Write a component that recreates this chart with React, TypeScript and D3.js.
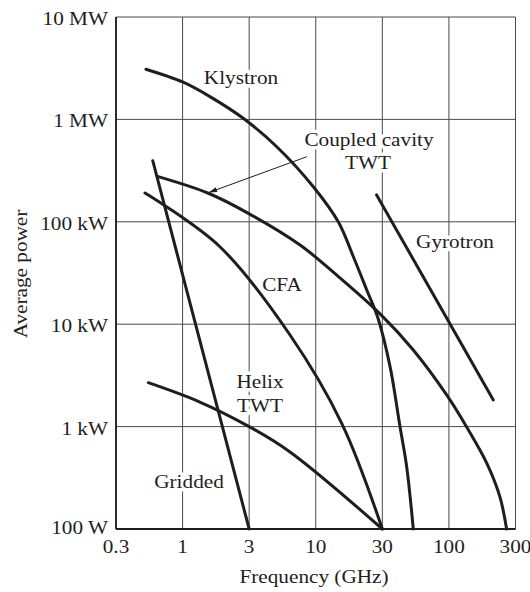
import React from "react";
import * as d3 from "d3";

// axis ticks (GHz / W)
const xTicks = [0.3, 1, 3, 10, 30, 100, 300];
const xTickLabels = ["0.3", "1", "3", "10", "30", "100", "300"];
const yTicks = [100, 1e3, 1e4, 1e5, 1e6, 1e7];
const yTickLabels = ["100 W", "1 kW", "10 kW", "100 kW", "1 MW", "10 MW"];

// curves: [frequency GHz, average power W]
const klystron: [number, number][] = [
  [0.516, 3.09e6], [1, 2.32e6], [1.57, 1.67e6], [2.72, 1.025e6], [4.94, 5.41e5],
  [9.57, 2.2e5], [14.5, 1.0e5], [18.6, 4.56e4], [23.2, 2.16e4], [27.9, 1.15e4],
  [34.5, 3850], [41.3, 998], [46.6, 406], [52.5, 100],
];
const coupledCavity: [number, number][] = [
  [0.644, 2.76e5], [1.53, 1.9e5], [2.96, 1.21e5], [7.53, 5.93e4], [14.9, 2.83e4],
  [28.9, 1.26e4], [52.5, 5600], [96, 2037], [134, 991], [187, 438],
  [232, 206], [259, 100],
];
const cfa: [number, number][] = [
  [0.507, 1.91e5], [1.85, 5.71e4], [6.28, 7845], [15.35, 1077], [30, 100],
];
const helix: [number, number][] = [
  [0.538, 2685], [1.33, 1738], [3, 1000], [6.28, 565], [30, 100],
];
const gridded: [number, number][] = [[0.583, 3.95e5], [3, 100]];
const gyrotron: [number, number][] = [[27.3, 1.83e5], [208, 1820]];
const arrowPts: [number, number][] = [[8.5, 4.32e5], [1.54, 1.93e5]];

const width = 530;
const height = 592;
const left = 116;
const right = 515.5;
const top = 17;
const bottom = 529;

const FONT = "'Liberation Serif', 'Times New Roman', serif";
const INK = "#1e1e1e";
const SX = 1.18; // the figure's serif face runs wider than Times

function Txt({ x, y, anchor = "middle", knock = false, children }: {
  x: number; y: number; anchor?: "start" | "middle" | "end"; knock?: boolean; children: React.ReactNode;
}) {
  return (
    <text
      transform={`translate(${x},${y}) scale(${SX},1)`}
      textAnchor={anchor}
      fontFamily={FONT}
      fontSize={18}
      fill={INK}
      stroke={knock ? "#fff" : "none"}
      strokeWidth={knock ? 7 : 0}
      strokeLinejoin="round"
      style={{ paintOrder: "stroke" }}
    >
      {children}
    </text>
  );
}

export default function App() {
  // the frequency grid is evenly spaced per 0.3-1-3-10 step
  const step = (right - left) / (xTicks.length - 1);
  const x = d3.scaleLog().domain(xTicks).range(xTicks.map((_, i) => left + i * step));
  const y = d3.scaleLog().domain([100, 1e7]).range([bottom, top]);

  const smooth = d3.line<[number, number]>()
    .x(d => x(d[0])).y(d => y(d[1]))
    .curve(d3.curveCatmullRom.alpha(0.5));
  const straight = d3.line<[number, number]>()
    .x(d => x(d[0])).y(d => y(d[1]));

  const curves = [
    { d: smooth(klystron), key: "k" },
    { d: smooth(coupledCavity), key: "cc" },
    { d: smooth(cfa), key: "cfa" },
    { d: smooth(helix), key: "h" },
    { d: straight(gridded), key: "g" },
    { d: straight(gyrotron), key: "gy" },
  ];

  return (
    <div style={{ position: "absolute", left: 0, top: 0, background: "#fff" }}>
      <svg width={width} height={height} viewBox={`0 0 ${width} ${height}`}>
        <defs>
          <marker id="ah" viewBox="0 0 10 6" refX="10" refY="3" markerWidth="10" markerHeight="5" orient="auto" markerUnits="userSpaceOnUse">
            <path d="M0,0 L10,3 L0,6 Z" fill={INK} />
          </marker>
        </defs>
        <rect width={width} height={height} fill="#fff" />

        {/* grid */}
        {xTicks.map(t => (
          <line key={"vx" + t} x1={x(t)} x2={x(t)} y1={top} y2={bottom} stroke="#4a4a4a" strokeWidth={1} />
        ))}
        {yTicks.map(t => (
          <line key={"hy" + t} x1={left} x2={right} y1={y(t)} y2={y(t)} stroke="#4a4a4a" strokeWidth={1} />
        ))}
        <line x1={left} x2={left} y1={top} y2={bottom} stroke={INK} strokeWidth={1.8} />
        <line x1={left} x2={right} y1={bottom} y2={bottom} stroke={INK} strokeWidth={1.8} />

        {/* labels, knocked out of the grid */}
        <Txt x={241} y={84} knock>Klystron</Txt>
        <Txt x={369} y={146} knock>Coupled cavity</Txt>
        <Txt x={368} y={169} knock>TWT</Txt>
        <Txt x={455} y={248} knock>Gyrotron</Txt>
        <Txt x={282} y={291} knock>CFA</Txt>
        <Txt x={260} y={388} knock>Helix</Txt>
        <Txt x={260} y={412} knock>TWT</Txt>
        <Txt x={189} y={488} knock>Gridded</Txt>

        {/* arrow to coupled cavity TWT */}
        <line
          x1={x(arrowPts[0][0])} y1={y(arrowPts[0][1])}
          x2={x(arrowPts[1][0])} y2={y(arrowPts[1][1])}
          stroke={INK} strokeWidth={1} markerEnd="url(#ah)"
        />

        {/* curves */}
        {curves.map(c => (
          <path key={c.key} d={c.d || ""} fill="none" stroke={INK} strokeWidth={3} strokeLinecap="round" />
        ))}

        {/* tick labels */}
        {yTicks.map((t, i) => (
          <Txt key={"yl" + t} x={108} y={y(t) + (i === 0 ? 5 : 8)} anchor="end">{yTickLabels[i]}</Txt>
        ))}
        {xTicks.map((t, i) => (
          <Txt key={"xl" + t} x={x(t)} y={553}>{xTickLabels[i]}</Txt>
        ))}

        <Txt x={314} y={583}>Frequency (GHz)</Txt>
        <text
          transform={`translate(27,274) rotate(-90) scale(${SX},1)`}
          textAnchor="middle" fontFamily={FONT} fontSize={18} fill={INK}
        >
          Average power
        </text>
      </svg>
    </div>
  );
}
